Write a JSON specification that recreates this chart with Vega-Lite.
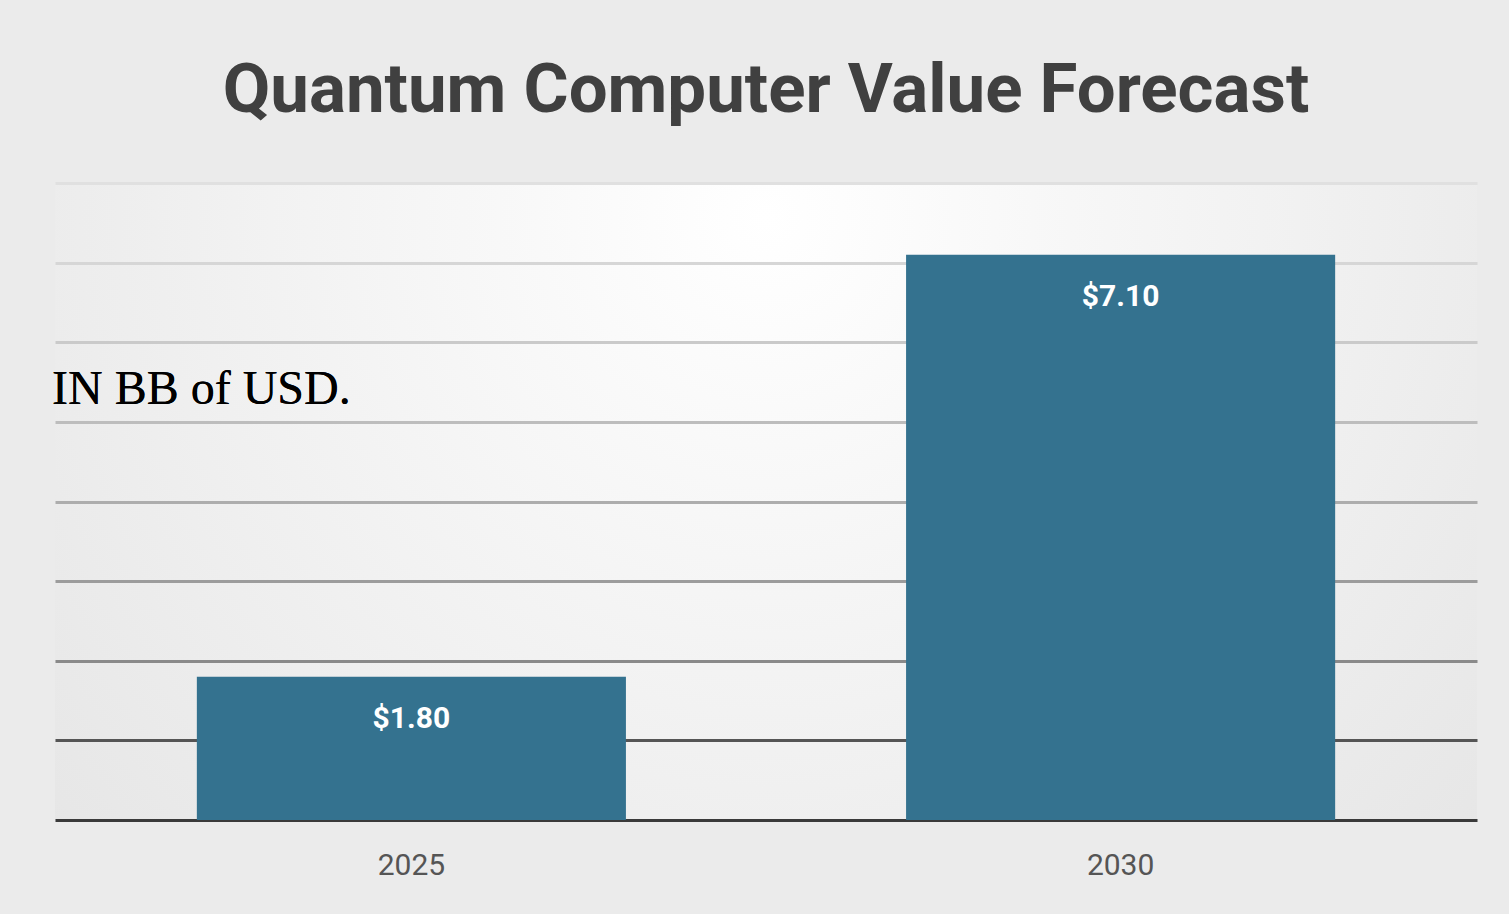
{
  "$schema": "https://vega.github.io/schema/vega-lite/v6.json",
  "width": 1422,
  "height": 637,
  "padding": {"left": 52, "top": 57, "right": 32, "bottom": 41},
  "background": "#ebebeb",
  "title": {
    "text": "Quantum Computer Value Forecast",
    "font": "Roboto",
    "fontSize": 69,
    "fontWeight": "bold",
    "color": "#404040",
    "anchor": "middle",
    "offset": 57
  },
  "config": {
    "view": {
      "stroke": null,
      "fill": {"gradient": "radial", "x1": 0.5, "y1": 0.3, "r1": 0, "x2": 0.5, "y2": 0.3, "r2": 0.75, "stops": [{"offset": 0, "color": "#ffffff"}, {"offset": 1, "color": "#e3e3e3"}]}
    }
  },
  "data": {
    "values": [
      {"year": "2025", "value": 1.8, "label": "$1.80"},
      {"year": "2030", "value": 7.1, "label": "$7.10"}
    ]
  },
  "layer": [
    {
      "encoding": {
        "x": {
          "field": "year",
          "type": "nominal",
          "scale": {"paddingInner": 0.395, "paddingOuter": 0.2},
          "axis": {
            "title": null,
            "labelAngle": 0,
            "labelFont": "Roboto",
            "labelFontSize": 30,
            "labelColor": "#555555",
            "labelPadding": 30,
            "ticks": false,
            "domain": false
          }
        },
        "y": {
          "field": "value",
          "type": "quantitative",
          "scale": {"domain": [0, 8], "nice": false},
          "axis": {
            "title": null,
            "labels": false,
            "ticks": false,
            "domain": false,
            "tickCount": 8,
            "gridWidth": 3,
            "gridColor": {
              "condition": [
                {"test": "datum.value == 0", "value": "#3a3a3a"},
                {"test": "datum.value == 1", "value": "#555555"},
                {"test": "datum.value == 2", "value": "#8a8a8a"},
                {"test": "datum.value == 3", "value": "#9c9c9c"},
                {"test": "datum.value == 4", "value": "#adadad"},
                {"test": "datum.value == 5", "value": "#bdbdbd"},
                {"test": "datum.value == 6", "value": "#cacaca"},
                {"test": "datum.value == 7", "value": "#d6d6d6"}
              ],
              "value": "#e0e0e0"
            }
          }
        }
      },
      "layer": [
        {"mark": {"type": "bar", "color": "#34728f"}},
        {
          "mark": {"type": "text", "color": "#ffffff", "font": "Roboto", "fontWeight": "bold", "fontSize": 30, "baseline": "middle", "dy": 42},
          "encoding": {"text": {"field": "label"}}
        }
      ]
    },
    {
      "mark": {"type": "text", "font": "Liberation Serif", "fontSize": 48, "color": "#000000", "align": "left", "baseline": "middle", "dx": -3},
      "encoding": {
        "x": {"datum": 0, "type": "quantitative", "scale": {"domain": [0, 1]}, "axis": null},
        "y": {"datum": 5.4, "type": "quantitative"},
        "text": {"value": "IN BB of USD."}
      }
    }
  ],
  "resolve": {"scale": {"x": "independent"}}
}
